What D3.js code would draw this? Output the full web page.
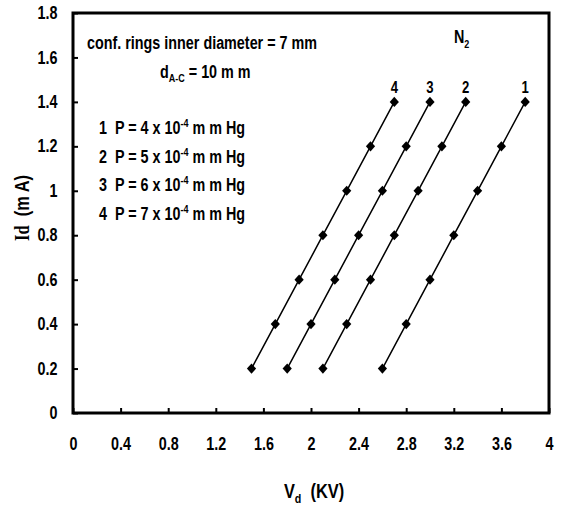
<!DOCTYPE html>
<html>
<head>
<meta charset="utf-8">
<script src="https://cdn.jsdelivr.net/npm/d3@7"></script>
<style>
  body { margin: 0; background: #fff; }
  text { font-family: "Liberation Sans Narrow", "Arial Narrow", "Liberation Sans", Arial, sans-serif; font-weight: bold; fill: #000; white-space: pre; }
</style>
</head>
<body>
<svg id="chart" width="562" height="508"></svg>
<script>
// Discharge current levels (mA) shared by every curve
const currentLevels = [0.2, 0.4, 0.6, 0.8, 1.0, 1.2, 1.4];
// Discharge voltage (kV) for each gas pressure
const voltsP4 = [2.6, 2.8, 3.0, 3.2, 3.4, 3.6, 3.8];
const voltsP5 = [2.1, 2.3, 2.5, 2.7, 2.9, 3.1, 3.3];
const voltsP6 = [1.8, 2.0, 2.2, 2.4, 2.6, 2.8, 3.0];
const voltsP7 = [1.5, 1.7, 1.9, 2.1, 2.3, 2.5, 2.7];
const curveNames = ["1", "2", "3", "4"];
const pressureValues = ["4", "5", "6", "7"];
const xTickValues = [0, 0.4, 0.8, 1.2, 1.6, 2, 2.4, 2.8, 3.2, 3.6, 4];
const yTickValues = [0, 0.2, 0.4, 0.6, 0.8, 1, 1.2, 1.4, 1.6, 1.8];

const curves = [voltsP4, voltsP5, voltsP6, voltsP7].map((v, i) => ({
  name: curveNames[i],
  points: v.map((x, j) => ({ x, y: currentLevels[j] }))
}));

const svg = d3.select("#chart");
const plotLeft = 73, plotRight = 549, plotTop = 13, plotBottom = 413;
const narrow = 0.82; // horizontal squeeze for the condensed lettering
const sp = "\u00a0";

const x = d3.scaleLinear().domain([0, 4]).range([plotLeft, plotRight]);
const y = d3.scaleLinear().domain([0, 1.8]).range([plotBottom, plotTop]);

// condensed text placed at (px, py)
function label(parent, px, py, size, anchor = "start", rotate = 0) {
  return parent.append("text")
    .attr("transform", `translate(${px},${py})` + (rotate ? ` rotate(${rotate})` : "") + ` scale(${narrow},1)`)
    .attr("text-anchor", anchor)
    .style("font-size", size + "px");
}

// axes with inward ticks
const xAxis = svg.append("g")
  .attr("transform", `translate(0,${plotBottom})`)
  .call(d3.axisBottom(x).tickValues(xTickValues).tickSizeInner(-5).tickSizeOuter(0).tickPadding(31)
    .tickFormat(d3.format("~g")));
const yAxis = svg.append("g")
  .attr("transform", `translate(${plotLeft},0)`)
  .call(d3.axisLeft(y).tickValues(yTickValues).tickSizeInner(-5).tickSizeOuter(0).tickPadding(19)
    .tickFormat(d3.format("~g")));
[xAxis, yAxis].forEach(g => {
  g.select(".domain").remove();
  g.selectAll(".tick line").attr("stroke", "#000").attr("stroke-width", 2);
  g.selectAll(".tick text").style("font-size", "17.5px").attr("font-family", null)
    .attr("transform", `scale(${narrow},1)`);
});
xAxis.selectAll(".tick text").attr("dy", "0.32em");

// plot frame
svg.append("rect")
  .attr("x", plotLeft).attr("y", plotTop)
  .attr("width", plotRight - plotLeft).attr("height", plotBottom - plotTop)
  .attr("fill", "none").attr("stroke", "#000").attr("stroke-width", 3);

// curves
const line = d3.line().x(d => x(d.x)).y(d => y(d.y));
svg.append("g").selectAll("path").data(curves).join("path")
  .attr("d", d => line(d.points))
  .attr("fill", "none").attr("stroke", "#000").attr("stroke-width", 1.5);

const diamond = d3.symbol().type(d3.symbolDiamond2).size(60);
svg.append("g").selectAll("g").data(curves).join("g")
  .selectAll("path").data(d => d.points).join("path")
  .attr("transform", d => `translate(${x(d.x)},${y(d.y)}) scale(0.95,1.05)`)
  .attr("d", diamond).attr("fill", "#000");

// curve numbers above the last point
curves.forEach(c => {
  const last = c.points[c.points.length - 1];
  label(svg, x(last.x), y(last.y) - 9, 16, "middle").text(c.name);
});

// annotations
label(svg, 87, 49, 17.5).text("conf. rings inner diameter = 7 mm");

const dac = label(svg, 160, 78, 17.5);
dac.append("tspan").text("d");
dac.append("tspan").attr("dy", 4).style("font-size", "11px").text("A-C");
dac.append("tspan").attr("dy", -4).text(" = 10 m m");

pressureValues.forEach((p, i) => {
  const t = label(svg, 99, 134 + i * 28.5, 17.5);
  t.append("tspan").text(`${curveNames[i]}${sp}${sp}P = ${p} x 10`);
  t.append("tspan").attr("dy", -7).style("font-size", "11px").text("-4");
  t.append("tspan").attr("dy", 7).text(" m m Hg");
});

const n2 = label(svg, 454, 43, 17.5);
n2.append("tspan").text("N");
n2.append("tspan").attr("dy", 5).style("font-size", "11px").text("2");

// axis titles
const xt = label(svg, 314, 498, 20, "middle");
xt.append("tspan").text("V");
xt.append("tspan").attr("dy", 5).style("font-size", "13px").text("d");
xt.append("tspan").attr("dy", -5).text(`${sp}${sp}(KV)`);

const yt = label(svg, 29, 208, 20, "middle", -90);
yt.append("tspan").style("font-family", "'Liberation Serif', 'Times New Roman', serif").text("Id");
yt.append("tspan").text(`${sp}${sp}(m A)`);
</script>
</body>
</html>
